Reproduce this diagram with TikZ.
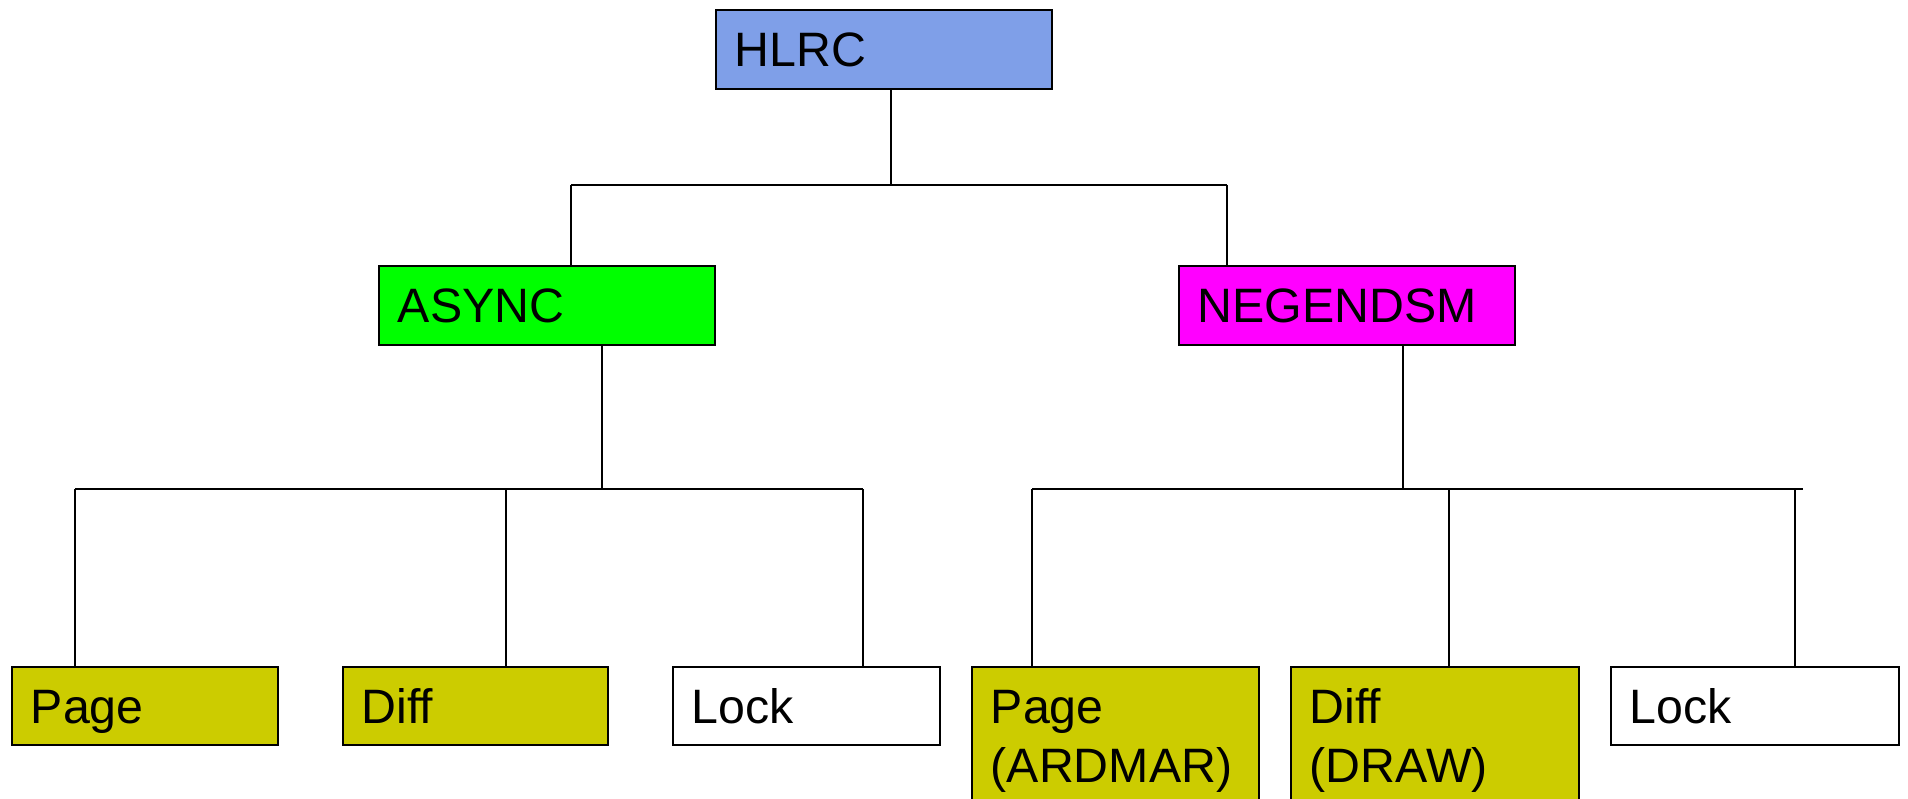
\documentclass[tikz,border=0pt]{standalone}
\usepackage{fontspec}
\setmainfont{Liberation Sans}
\definecolor{rootblue}{RGB}{127,159,232}
\definecolor{asyncgreen}{RGB}{0,255,0}
\definecolor{negmagenta}{RGB}{255,0,255}
\definecolor{leafolive}{RGB}{204,204,0}
\begin{document}
\begin{tikzpicture}[x=1pt,y=-1pt,
  box/.style={draw=black,line width=1.6pt,rectangle,anchor=north west,
    inner xsep=19pt,inner ysep=0pt,align=left,
    font=\fontsize{48.3}{59}\selectfont,text height=56.5pt},
  boxdim/.style n args={2}{text width=#1pt-38pt,text depth=#2pt-56.5pt},
  wire/.style={draw=black,line width=1.3pt}]
\useasboundingbox (0,0) rectangle (1908,799);
\clip (0,0) rectangle (1908,799);

% level 0
\node[box,fill=rootblue,boxdim={336}{79}] (hlrc) at (715,9) {HLRC};

% level 1
\node[box,fill=asyncgreen,boxdim={336}{79}] (async) at (378,265) {ASYNC};
\node[box,fill=negmagenta,boxdim={336}{79}] (neg) at (1178,265) {NEGENDSM};

% level 2
\node[box,fill=leafolive,boxdim={266}{78}] (pageA) at (11,666) {Page};
\node[box,fill=leafolive,boxdim={265}{78}] (diffA) at (342,666) {Diff};
\node[box,fill=white,boxdim={267}{78}] (lockA) at (672,666) {Lock};
\node[box,fill=leafolive,boxdim={287}{160}] (pageN) at (971,666) {Page\\(ARDMAR)};
\node[box,fill=leafolive,boxdim={288}{160}] (diffN) at (1290,666) {Diff\\(DRAW)};
\node[box,fill=white,boxdim={288}{78}] (lockN) at (1610,666) {Lock};

% junctions
\coordinate (h0) at (891,185);
\coordinate (hA) at (571,185);
\coordinate (hN) at (1227,185);
\coordinate (a0) at (602,489);
\coordinate (a1) at (75,489);
\coordinate (a2) at (506,489);
\coordinate (a3) at (863,489);
\coordinate (n0) at (1403,489);
\coordinate (n1) at (1032,489);
\coordinate (n2) at (1449,489);
\coordinate (n3) at (1795,489);
\coordinate (nend) at (1803,489);

% root to level 1
\draw[wire] (h0 |- hlrc.south) -- (h0);
\draw[wire] (hA) -- (hN);
\draw[wire] (hA) -- (hA |- async.north);
\draw[wire] (hN) -- (hN |- neg.north);

% ASYNC subtree
\draw[wire] (a0 |- async.south) -- (a0);
\draw[wire] (a1) -- (a3);
\draw[wire] (a1) -- (a1 |- pageA.north);
\draw[wire] (a2) -- (a2 |- diffA.north);
\draw[wire] (a3) -- (a3 |- lockA.north);

% NEGENDSM subtree
\draw[wire] (n0 |- neg.south) -- (n0);
\draw[wire] (n1) -- (nend);
\draw[wire] (n1) -- (n1 |- pageN.north);
\draw[wire] (n2) -- (n2 |- diffN.north);
\draw[wire] (n3) -- (n3 |- lockN.north);
\end{tikzpicture}
\end{document}
